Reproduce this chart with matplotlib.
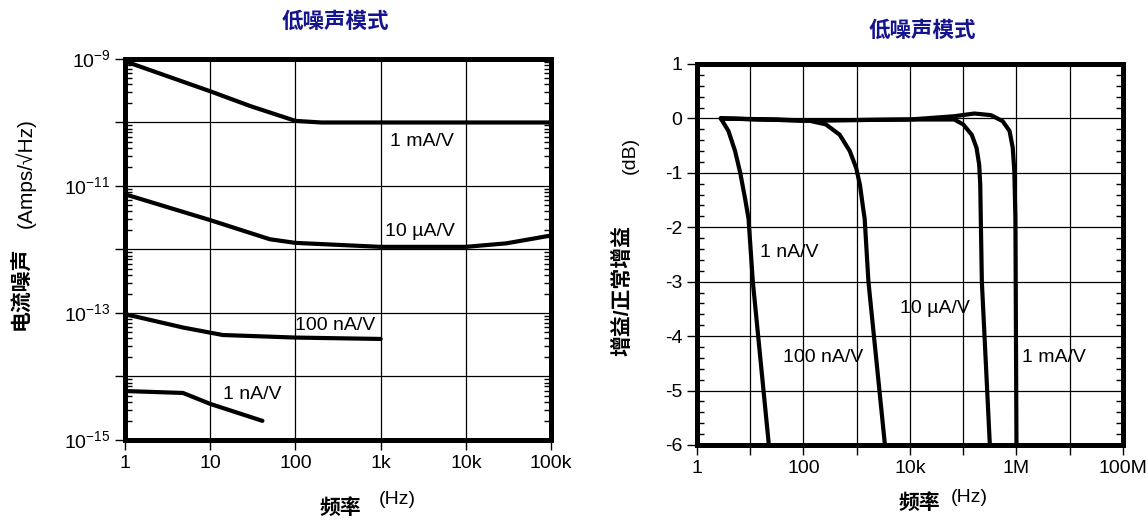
import math
import matplotlib
matplotlib.use("Agg")
import matplotlib.pyplot as plt
from matplotlib.ticker import FixedLocator, FuncFormatter, MultipleLocator, NullLocator

plt.rcParams['font.family'] = ['Liberation Sans', 'Noto Sans CJK SC', 'DejaVu Sans']
plt.rcParams['mathtext.fontset'] = 'custom'
plt.rcParams['mathtext.rm'] = 'Liberation Sans'

# ---- left chart: current noise vs frequency ----
noise_labels = ['1 mA/V', '10 µA/V', '100 nA/V', '1 nA/V']
noise_freq = {
    '1 mA/V': [1, 10, 30, 100, 200, 100000],
    '10 µA/V': [1, 10, 50, 100, 1000, 10000, 30000, 100000],
    '100 nA/V': [1, 4.8, 14, 100, 1000],
    '1 nA/V': [1, 4.8, 10, 41],
}
noise_vals = {
    '1 mA/V': [9.2e-10, 3.1e-10, 1.8e-10, 1.06e-10, 1.0e-10, 1.0e-10],
    '10 µA/V': [7.4e-12, 2.9e-12, 1.45e-12, 1.27e-12, 1.1e-12, 1.1e-12, 1.25e-12, 1.66e-12],
    '100 nA/V': [9.6e-14, 5.9e-14, 4.5e-14, 4.1e-14, 3.9e-14],
    '1 nA/V': [5.9e-15, 5.5e-15, 3.7e-15, 2.0e-15],
}
noise_label_pos = {
    '1 mA/V': (1300, 5.1e-11),
    '10 µA/V': (1120, 1.9e-12),
    '100 nA/V': (100, 6.3e-14),
    '1 nA/V': (14, 5.2e-15),
}

# ---- right chart: normalised gain vs frequency ----
gain_labels = ['1 nA/V', '100 nA/V', '10 µA/V', '1 mA/V']
gain_freq = {
    '1 nA/V': [2.8, 3.9, 5.2, 6.5, 8.0, 9.3, 11.2, 22.4],
    '100 nA/V': [2.8, 32, 126, 263, 479, 741, 977, 1150, 1320, 1410, 1660, 3390],
    '10 µA/V': [2.8, 100, 1000, 10000, 67600, 100000, 144500, 177800, 199500,
                208900, 213800, 223900, 316200],
    '1 mA/V': [2.8, 100, 1000, 10000, 67600, 162200, 331100, 549500, 741300,
               851100, 912000, 955000, 1000000],
}
gain_vals = {
    '1 nA/V': [0, -0.23, -0.6, -1.0, -1.47, -1.84, -3.0, -6.0],
    '100 nA/V': [0, -0.02, -0.04, -0.11, -0.3, -0.6, -0.91, -1.22, -1.65, -1.84, -3.0, -6.0],
    '10 µA/V': [0, -0.04, -0.03, -0.02, -0.02, -0.11, -0.3, -0.54, -0.85, -1.22,
                -1.84, -3.0, -6.0],
    '1 mA/V': [0, -0.04, -0.03, -0.02, 0.04, 0.09, 0.06, -0.05, -0.23, -0.54,
               -0.97, -1.84, -6.0],
}
gain_label_pos = {
    '1 nA/V': (15, -2.46),
    '10 µA/V': (6500, -3.49),
    '100 nA/V': (41, -4.4),
    '1 mA/V': (1.26e6, -4.4),
}

title = '低噪声模式'
navy = '#14148c'
fs = 14

fig = plt.figure(figsize=(11.48, 5.21), dpi=100)
ax1 = fig.add_axes([0.1089, 0.1555, 0.3711, 0.7313])
ax2 = fig.add_axes([0.6071, 0.1459, 0.3711, 0.7313])

for ax in (ax1, ax2):
    for s in ax.spines.values():
        s.set_linewidth(3.6)
    ax.grid(True, which='major', color='black', linewidth=0.9)
    ax.set_axisbelow(True)
    ax.tick_params(which='major', direction='out', length=7, width=1.0,
                   labelsize=fs, top=False, right=False)
    ax.tick_params(axis='y', which='minor', direction='in', length=5, width=1.0,
                   left=True, right=True)


def decade_label(v, pos):
    e = round(math.log10(v))
    return '$10^{%d}$' % e if e % 2 else ''


# left chart
for name in noise_labels:
    ax1.plot(noise_freq[name], noise_vals[name], color='black', linewidth=3,
             solid_capstyle='round', solid_joinstyle='round')
    ax1.text(*noise_label_pos[name], name, fontsize=fs, ha='left', va='center')
ax1.set_xscale('log')
ax1.set_yscale('log')
ax1.set_xlim(1, 1e5)
ax1.set_ylim(1e-15, 1e-9)
ax1.xaxis.set_major_locator(FixedLocator([1, 10, 100, 1e3, 1e4, 1e5]))
ax1.set_xticklabels(['1', '10', '100', '1k', '10k', '100k'])
ax1.xaxis.set_minor_locator(NullLocator())
ax1.yaxis.set_major_locator(FixedLocator([10.0 ** e for e in range(-15, -8)]))
ax1.yaxis.set_minor_locator(FixedLocator([m * 10.0 ** e for e in range(-15, -9)
                                          for m in range(2, 10)]))
ax1.yaxis.set_major_formatter(FuncFormatter(decade_label))
ax1.yaxis.set_minor_formatter(FuncFormatter(lambda v, p: ''))

# right chart
for name in gain_labels:
    ax2.plot(gain_freq[name], gain_vals[name], color='black', linewidth=3,
             solid_capstyle='round', solid_joinstyle='round')
    ax2.text(*gain_label_pos[name], name, fontsize=fs, ha='left', va='center')
ax2.set_xscale('log')
ax2.set_xlim(1, 1e8)
ax2.set_ylim(-6, 1)
ax2.xaxis.set_major_locator(FixedLocator([10.0 ** e for e in range(0, 9)]))
ax2.set_xticklabels(['1', '', '100', '', '10k', '', '1M', '', '100M'])
ax2.xaxis.set_minor_locator(NullLocator())
ax2.yaxis.set_major_locator(MultipleLocator(1))
ax2.yaxis.set_minor_locator(MultipleLocator(0.2))
ax2.yaxis.set_major_formatter(FuncFormatter(lambda v, p: '%d' % round(v)))

# titles and axis labels
fig.text(0.2918, 0.958, title, color=navy, fontsize=15.5, fontweight='bold',
         ha='center', va='center')
fig.text(0.803, 0.939, title, color=navy, fontsize=15.5, fontweight='bold',
         ha='center', va='center')

fig.text(0.018, 1 - 288 / 521, '电流噪声', rotation=90, fontsize=15,
         fontweight='bold', ha='center', va='center')
fig.text(0.022, 1 - 173 / 521, '(Amps/√Hz)', rotation=90, fontsize=15,
         ha='center', va='center')
fig.text(340 / 1148, 1 - 508 / 521, '频率', fontsize=15, fontweight='bold',
         ha='center', va='center')
fig.text(397 / 1148, 1 - 500 / 521, '(Hz)', fontsize=fs, ha='center', va='center')

fig.text(622 / 1148, 1 - 290 / 521, '增益/正常增益', rotation=90, fontsize=15,
         fontweight='bold', ha='center', va='center')
fig.text(630 / 1148, 1 - 155 / 521, '(dB)', rotation=90, fontsize=fs,
         ha='center', va='center')
fig.text(919 / 1148, 1 - 503 / 521, '频率', fontsize=15, fontweight='bold',
         ha='center', va='center')
fig.text(969 / 1148, 1 - 498 / 521, '(Hz)', fontsize=fs, ha='center', va='center')

fig.savefig('out.png', dpi=100)
